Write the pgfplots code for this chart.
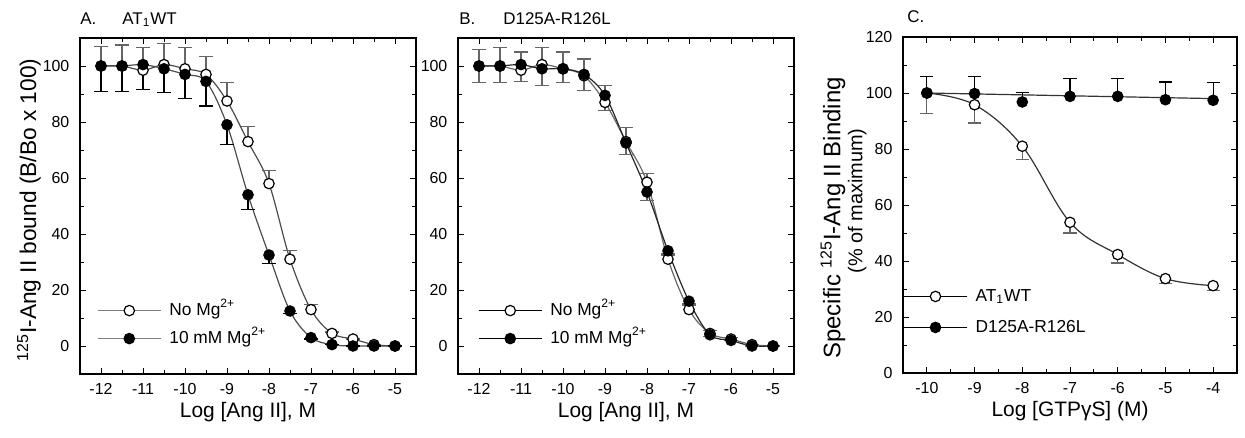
\documentclass[border=0pt]{standalone}
\usepackage{fontspec}
\setmainfont{Liberation Sans}
\usepackage{pgfplots}
\usepackage{pgfplotstable}
\pgfplotsset{compat=1.18}

% panel A: AT1 WT
\pgfplotstableread{
x y e
-12 100 7
-11.5 100 7.5
-11 98.5 8
-10.5 100.5 7.5
-10 99 7.5
-9.5 97 6.3
-9 87.5 6.5
-8.5 73 5.3
-8 58 4.6
-7.5 31 3
-7 13 1.8
-6.5 4.5 0.5
-6 2.5 0
-5.5 0.5 0
-5 0 0
}\Aopen
\pgfplotstableread{
x y e
-12 100 9
-11.5 100 9
-11 100.5 9
-10.5 99 8.5
-10 97 8.5
-9.5 94.5 8.8
-9 79 7
-8.5 54 5.3
-8 32.5 3
-7.5 12.5 1
-7 3 0.5
-6.5 0.5 0
-6 0 0
-5.5 0 0
-5 0 0
}\Aclosed
% panel B: D125A-R126L
\pgfplotstableread{
x y e
-12 100 6
-11.5 100 6.5
-11 98.5 6.5
-10.5 100.5 6
-10 99 6
-9.5 96.5 6
-9 87 6
-8.5 73 5
-8 58.5 3
-7.5 31 2
-7 13 2
-6.5 4.5 1
-6 2.5 0.5
-5.5 0.5 0
-5 0 0
}\Bopen
\pgfplotstableread{
x y e
-12 100 6
-11.5 100 6
-11 100.5 6
-10.5 99 6
-10 99 5
-9.5 97 5.7
-9 89.5 5.5
-8.5 72.5 4
-8 55 3
-7.5 34 1.5
-7 16 1.5
-6.5 4 0.5
-6 2 0
-5.5 0 0
-5 0 0
}\Bclosed
% panel C: GTPgS
\pgfplotstableread{
x y e
-10 100 7.4
-9 95.8 6.5
-8 81 4.8
-7 53.8 3.8
-6 42.3 3
-5 33.7 1.7
-4 31.2 1.6
}\Copen
\pgfplotstableread{
x y e
-10 100 6
-9 99.8 6.2
-8 96.8 3.5
-7 98.8 6.3
-6 98.8 6.3
-5 97.6 6.3
-4 97.4 6.4
}\Cclosed

\pgfplotsset{
  panel/.style={
    scale only axis,
    width=168bp, height=168bp,
    axis line style={line width=0.6bp},
    every tick/.style={black, line width=0.5bp},
    major tick length=3bp, minor tick length=2bp,
    minor x tick num=1, minor y tick num=1,
    tick label style={font=\fontsize{8}{9.6}\selectfont},
    /pgf/number format/assume math mode=true,
    x tick label style={anchor=base, inner sep=0pt, yshift=-10bp},
    y tick label style={xshift=-1.8bp},
    label style={font=\fontsize{10.5}{12}\selectfont},
    xlabel style={at={(axis description cs:0.5,0)}, anchor=base, inner sep=0pt, yshift=-21.5bp},
    legend style={draw=none, fill=none, inner sep=0pt, row sep=5bp,
      font=\fontsize{8.7}{9.6}\selectfont,
      nodes={inner sep=0pt, anchor=west, text height=7bp, text depth=2bp},
      /tikz/every odd column/.append style={column sep=4bp}},
    legend cell align=left,
    legend image code/.code={\draw[mark repeat=2,mark phase=2,##1]
      plot coordinates {(0bp,0bp) (15.75bp,0bp) (31.5bp,0bp)};},
  },
  openpt/.style={only marks, mark=*, mark size=2.6bp,
    mark options={fill=white, draw=black, line width=0.6bp}},
  closedpt/.style={only marks, mark=*, mark size=2.6bp,
    mark options={fill=black, draw=black, line width=0.6bp}},
  errup/.style={error bars/.cd, y dir=plus, y explicit,
    error bar style={#1, line width=0.6bp},
    error mark options={rotate=90, mark size=3.3bp, #1, line width=0.6bp}},
  errdown/.style={error bars/.cd, y dir=minus, y explicit,
    error bar style={#1, line width=0.6bp},
    error mark options={rotate=90, mark size=3.3bp, #1, line width=0.6bp}},
}

\begin{document}
\begin{tikzpicture}
\useasboundingbox (0,0) rectangle (622.5bp,-219bp);

% ---------- A ----------
\begin{axis}[panel, name=A, at={(40bp,-187bp)}, anchor=south west,
    xmin=-12.5, xmax=-4.5, ymin=-10, ymax=110,
    xtick={-12,-11,...,-5}, ytick={0,20,...,100},
    xlabel={Log [Ang II], M},
    ylabel={\textsuperscript{125}I-Ang II bound (B/Bo x 100)},
    ylabel style={at={([xshift=-22bp,yshift=-2bp]axis description cs:0,0.5)}, anchor=base,
      font=\fontsize{11.4}{12}\selectfont},
    legend style={at={(axis cs:-12.1,16)}, anchor=north west},
]
\addlegendimage{black!50, line width=0.6bp, mark=*, mark size=2.6bp,
  mark options={fill=white, draw=black}}
\addlegendentry{No Mg\textsuperscript{2+}}
\addlegendimage{black!50, line width=0.6bp, mark=*, mark size=2.6bp,
  mark options={fill=black, draw=black}}
\addlegendentry{10 mM Mg\textsuperscript{2+}}
\addplot[forget plot, smooth, tension=0.55, line width=0.6bp, black!70] table[x=x,y=y]{\Aopen};
\addplot[forget plot, smooth, tension=0.55, line width=0.6bp, black!70] table[x=x,y=y]{\Aclosed};
\addplot[forget plot, openpt, errup=black!60] table[x=x,y=y,y error=e]{\Aopen};
\addplot[forget plot, closedpt, errdown=black] table[x=x,y=y,y error=e]{\Aclosed};
\end{axis}

% ---------- B ----------
\begin{axis}[panel, name=B, at={(229bp,-187bp)}, anchor=south west,
    xmin=-12.5, xmax=-4.5, ymin=-10, ymax=110,
    xtick={-12,-11,...,-5}, ytick={0,20,...,100},
    xlabel={Log [Ang II], M},
    legend style={at={(axis cs:-12.03,16)}, anchor=north west},
]
\addlegendimage{black, line width=0.6bp, mark=*, mark size=2.6bp,
  mark options={fill=white, draw=black}}
\addlegendentry{No Mg\textsuperscript{2+}}
\addlegendimage{black, line width=0.6bp, mark=*, mark size=2.6bp,
  mark options={fill=black, draw=black}}
\addlegendentry{10 mM Mg\textsuperscript{2+}}
\addplot[forget plot, smooth, tension=0.55, line width=0.6bp, black!60] table[x=x,y=y]{\Bopen};
\addplot[forget plot, smooth, tension=0.55, line width=0.6bp, black!85] table[x=x,y=y]{\Bclosed};
\addplot[forget plot, openpt, errup=black!60] table[x=x,y=y,y error=e]{\Bopen};
\addplot[forget plot, closedpt, errdown=black!60] table[x=x,y=y,y error=e]{\Bclosed};
\end{axis}

% ---------- C ----------
\begin{axis}[panel, name=C, width=167bp, at={(451.5bp,-186.5bp)}, anchor=south west,
    xmin=-10.5, xmax=-3.5, ymin=0, ymax=120,
    xtick={-10,-9,...,-4}, ytick={0,20,...,120},
    xlabel={Log [GTPγS] (M)},
    ylabel={{\fontsize{12}{11}\selectfont Specific \textsuperscript{125}I-Ang II Binding\hspace{17bp}\mbox{}}\\(\% of maximum)},
    ylabel style={at={([xshift=-29.75bp,yshift=2bp]axis description cs:0,0.5)}, anchor=center,
      align=center, font=\fontsize{10}{11}\selectfont},
    legend style={at={(axis cs:-10.5,30.7)}, anchor=north west, row sep=6.5bp},
]
\addlegendimage{black, line width=0.6bp, mark=*, mark size=2.6bp,
  mark options={fill=white, draw=black}}
\addlegendentry{AT\textsubscript{1}WT}
\addlegendimage{black, line width=0.6bp, mark=*, mark size=2.6bp,
  mark options={fill=black, draw=black}}
\addlegendentry{D125A-R126L}
\addplot[forget plot, line width=0.6bp, black!80] coordinates {(-10,100) (-7,99) (-4,98)};
\addplot[forget plot, smooth, tension=0.6, line width=0.6bp, black!80] table[x=x,y=y]{\Copen};
\addplot[forget plot, openpt, errdown=black!60] table[x=x,y=y,y error=e]{\Copen};
\addplot[forget plot, closedpt, errup=black] table[x=x,y=y,y error=e]{\Cclosed};
\end{axis}

% panel titles
\node[anchor=base west, inner sep=0, font=\fontsize{8.5}{9}\selectfont] at ([yshift=7bp]A.north west) {A.};
\node[anchor=base west, inner sep=0, font=\fontsize{8.5}{9}\selectfont] at ([xshift=21bp,yshift=7bp]A.north west) {AT\textsubscript{1}WT};
\node[anchor=base west, inner sep=0, font=\fontsize{8.5}{9}\selectfont] at ([xshift=0.5bp,yshift=7bp]B.north west) {B.};
\node[anchor=base west, inner sep=0, font=\fontsize{8.5}{9}\selectfont] at ([xshift=22.5bp,yshift=7bp]B.north west) {D125A-R126L};
\node[anchor=base west, inner sep=0, font=\fontsize{8.5}{9}\selectfont] at ([xshift=2bp,yshift=7.5bp]C.north west) {C.};
\end{tikzpicture}
\end{document}
